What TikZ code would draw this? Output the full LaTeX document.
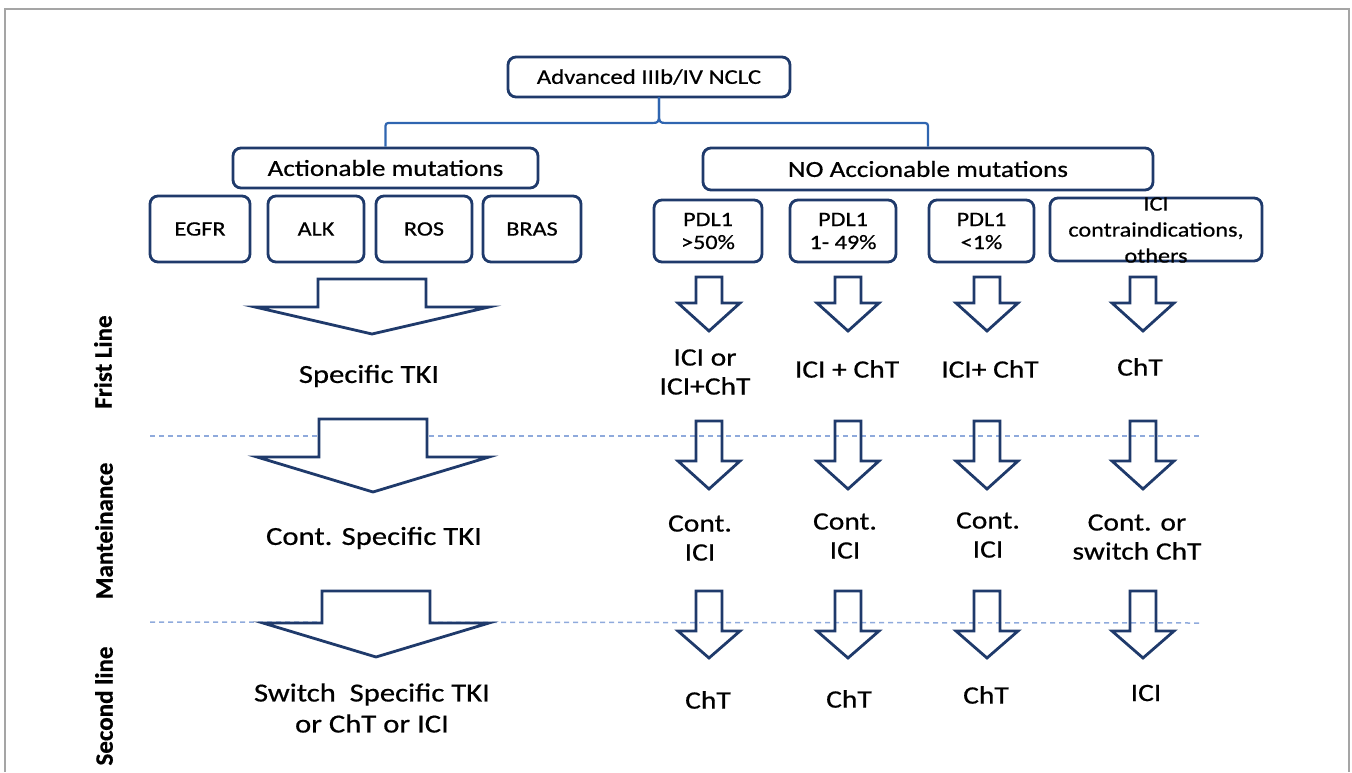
\documentclass[tikz,border=0pt]{standalone}
\usepackage{fontspec}
\setmainfont{Carlito}[FakeStretch=1.18,FakeBold=0.6]
\newfontfamily\rotfont{Carlito}[FakeBold=0.6]
\usetikzlibrary{calc}
\definecolor{navy}{HTML}{1F3A6B}
\definecolor{bracecol}{HTML}{2F65B0}
\definecolor{dashcol}{HTML}{8FAADC}
\definecolor{framecol}{HTML}{A5A5A5}
\newcommand{\blockarrow}[7]{%
  \draw[#7] (#1-#5,#2) -- (#1+#5,#2) -- (#1+#5,#3) -- (#1+#6,#3) -- (#1,#4) -- (#1-#6,#3) -- (#1-#5,#3) -- cycle;}
\tikzset{
  box/.style={draw=navy, line width=2.8pt, rounded corners=8pt, inner sep=0pt, align=center,
    font=\fontsize{20.5}{23}\selectfont},
  bigbox/.style={box, font=\fontsize{23}{27}\selectfont},
  lbl/.style={font=\fontsize{25}{29}\selectfont, align=center, inner sep=0pt},
  biglbl/.style={font=\fontsize{26}{31}\selectfont, align=center, inner sep=0pt},
  rowlbl/.style={font=\rotfont\bfseries\fontsize{25}{30}\selectfont, rotate=90, inner sep=0pt},
  bigarrow/.style={draw=navy, line width=2.8pt, fill=white, line join=miter},
  smallarrow/.style={draw=navy, line width=2.8pt, line join=miter},
  bracestyle/.style={draw=bracecol, line width=2.2pt},
  sepline/.style={draw=dashcol, line width=1.5pt, dash pattern=on 5pt off 4pt},
}
\begin{document}
\begin{tikzpicture}[x=1pt,y=-1pt]
\useasboundingbox (0,0) rectangle (1352,772);
% frame
\draw[framecol, line width=2pt] (4.5,772) -- (4.5,8.5) -- (1349,8.5) -- (1349,772);
% separators
\draw[sepline] (150,436) -- (1200,436);
\draw[sepline] (150,622) -- (1200,623);

% header boxes
\node[bigbox, font=\fontsize{21}{25}\selectfont, minimum width=282, minimum height=40] (top) at (649,77) {Advanced IIIb/IV NCLC};
\node[bigbox, minimum width=305, minimum height=40] (act) at (385.5,168) {Actionable mutations};
\node[bigbox, minimum width=450, minimum height=42] (noact) at (928,169) {NO Accionable mutations};

% brace
\coordinate (bj) at (659,123);
\coordinate (bt) at (659,97);
\draw[bracestyle] (act.north) -- ($(act.north |- bj)+(0,6)$) .. controls (act.north |- bj) .. ($(act.north |- bj)+(6,0)$)
  -- ($(bj)+(-7,0)$) .. controls ($(bj)+(-1,0)$) and ($(bj)+(0,-1)$) .. ($(bj)+(0,-8)$) -- (bt);
\draw[bracestyle] (bt) -- ($(bj)+(0,-8)$) .. controls ($(bj)+(0,-1)$) and ($(bj)+(1,0)$) .. ($(bj)+(7,0)$)
  -- ($(noact.north |- bj)+(-6,0)$) .. controls (noact.north |- bj) .. ($(noact.north |- bj)+(0,6)$) -- (noact.north);

% mutation boxes
\node[box, minimum width=100, minimum height=66] (egfr) at (200,229) {EGFR};
\node[box, minimum width=96, minimum height=66] (alk) at (316,229) {ALK};
\node[box, minimum width=96, minimum height=66] (ros) at (424,229) {ROS};
\node[box, minimum width=98, minimum height=66] (bras) at (532,229) {BRAS};

% PDL1 boxes
\node[box, minimum width=108, minimum height=62] (p1) at (708,231) {PDL1\\>50\%};
\node[box, minimum width=106, minimum height=62] (p2) at (843,231) {PDL1\\1- 49\%};
\node[box, minimum width=105, minimum height=62] (p3) at (981.5,231) {PDL1\\<1\%};
\node[box, minimum width=212, minimum height=63] (ici) at (1156,229.5) {};
\node[align=center, inner sep=0pt, font=\fontsize{20.5}{26}\selectfont] (icitext) at (1156,230) {ICI\\contraindications,\\others};

% big arrows (left)
\blockarrow{372}{279}{307}{334}{54}{117}{bigarrow}
\blockarrow{373}{419}{457}{492}{54}{116}{bigarrow}
\blockarrow{376}{591}{623}{657}{54}{113}{bigarrow}

% small arrows
\foreach \cx in {709,848,987,1143}{
  \blockarrow{\cx}{277}{303}{331}{13}{31}{smallarrow}
  \blockarrow{\cx}{421}{461}{489}{13}{31}{smallarrow}
  \blockarrow{\cx}{591}{631}{658}{13}{31}{smallarrow}
}

% left texts
\node[biglbl] (tki1) at (369,376) {Specific TKI};
\node[biglbl] (tki2) at (374,538) {Cont. Specific TKI};
\node[biglbl] (tki3) at (372,708) {Switch\ \ Specific TKI\\or ChT or ICI};

% row 1 texts
\node[lbl] (r1a) at (705,372) {ICI or\\ICI+ChT};
\node[lbl] (r1b) at (847,369) {ICI + ChT};
\node[lbl] (r1c) at (990,369) {ICI+ ChT};
\node[lbl] (r1d) at (1140,367) {ChT};
% row 2 texts
\node[lbl] (r2a) at (700,538) {Cont.\\ICI};
\node[lbl] (r2b) at (845,536) {Cont.\\ICI};
\node[lbl] (r2c) at (988,535) {Cont.\\ICI};
\node[lbl] (r2d) at (1137,537) {Cont. or\\switch ChT};
% row 3 texts
\node[lbl] (r3a) at (708,700) {ChT};
\node[lbl] (r3b) at (849,699) {ChT};
\node[lbl] (r3c) at (986,695) {ChT};
\node[lbl] (r3d) at (1146,693) {ICI};

% row labels
\node[rowlbl] (l1) at (103,362) {Frist Line};
\node[rowlbl] (l2) at (104,531) {Manteinance};
\node[rowlbl] (l3) at (104,706) {Second line};
\end{tikzpicture}
\end{document}
